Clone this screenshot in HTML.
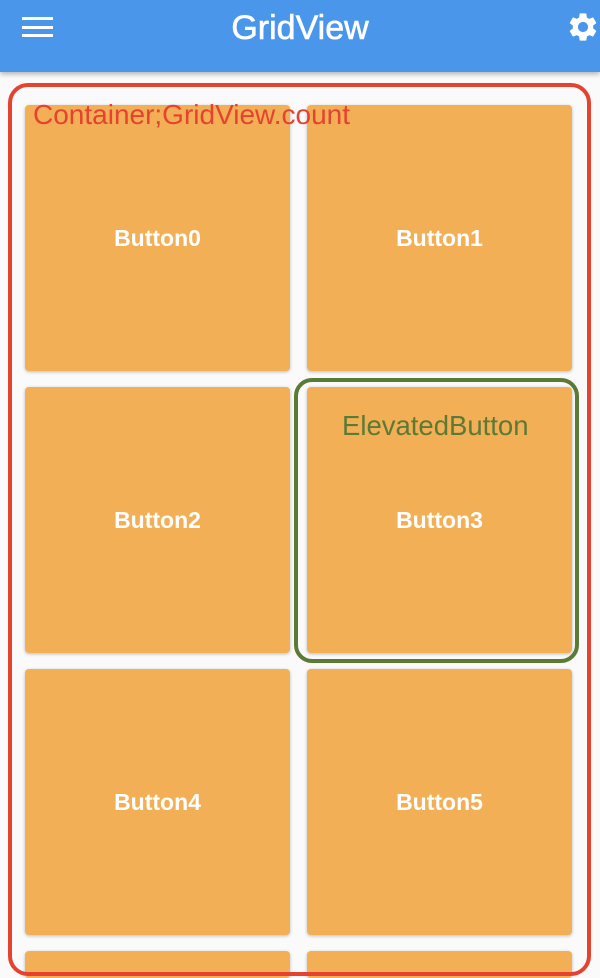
<!DOCTYPE html>
<html><head><meta charset="utf-8"><style>
*{margin:0;padding:0;box-sizing:border-box}
html,body{width:600px;height:978px;overflow:hidden}
body{background:#fafafa;font-family:"Liberation Sans",sans-serif;position:relative}
.bar{position:absolute;left:0;top:0;width:600px;height:72px;background:#4a96ea;box-shadow:0 2px 5px rgba(0,0,0,.3);z-index:2}
.title{position:absolute;left:0;width:600px;top:8px;text-align:center;color:#fff;font-size:34px;line-height:40px;-webkit-text-stroke:0.6px #fff}
.menu{position:absolute;left:22px;top:17px;width:31px;height:20px}
.menu span{position:absolute;left:0;width:31px;height:3px;background:#fff}
.btn{position:absolute;width:265px;height:266px;background:#f2af55;border-radius:4px;box-shadow:0 1px 3px rgba(0,0,0,.25);color:#fff;font-weight:bold;font-size:23px;display:flex;align-items:center;justify-content:center}
.red{position:absolute;left:8px;top:83px;width:583px;height:893px;border:4px solid #e5432f;border-radius:20px}
.green{position:absolute;left:294px;top:378px;width:285px;height:285px;border:4px solid #5b7a36;border-radius:18px}
</style></head><body>
<div class="bar">
<div class="menu"><span style="top:0"></span><span style="top:9px"></span><span style="top:17px"></span></div>
<div class="title">GridView</div>
<svg style="position:absolute;left:566px;top:10px" width="34" height="34" viewBox="0 0 24 24"><path fill="#fff" d="M19.14 12.94c.04-.3.06-.61.06-.94s-.02-.64-.07-.94l2.03-1.58a.49.49 0 0 0 .12-.61l-1.920-3.32a.49.49 0 0 0-.59-.22l-2.39.96c-.5-.38-1.03-.7-1.62-.94l-.36-2.54a.48.48 0 0 0-.48-.41h-3.84c-.24 0-.43.17-.47.41l-.36 2.540c-.59.24-1.13.57-1.62.94l-2.39-.96a.49.49 0 0 0-.59.22L2.74 8.87c-.12.21-.08.47.12.61l2.03 1.58c-.05.3-.09.63-.09.94s.02.64.07.94l-2.03 1.58a.49.49 0 0 0-.12.61l1.92 3.32c.12.22.37.29.59.22l2.39-.96c.5.38 1.03.7 1.62.94l.36 2.54c.05.24.24.41.48.41h3.84c.24 0 .44-.17.47-.41l.36-2.54c.59-.24 1.13-.56 1.62-.94l2.39.96c.22.08.47 0 .59-.22l1.92-3.32c.12-.22.07-.47-.12-.61l-2.010-1.58zM12 15.6A3.6 3.6 0 1 1 12 8.4a3.6 3.6 0 0 1 0 7.2z"/></svg>
</div>
<div class="btn" style="left:25px;top:105px">Button0</div>
<div class="btn" style="left:307px;top:105px">Button1</div>
<div class="btn" style="left:25px;top:387px">Button2</div>
<div class="btn" style="left:307px;top:387px">Button3</div>
<div class="btn" style="left:25px;top:669px">Button4</div>
<div class="btn" style="left:307px;top:669px">Button5</div>
<div class="btn" style="left:25px;top:951px;height:27px"></div>
<div class="btn" style="left:307px;top:951px;height:27px"></div>
<div class="red"></div>
<div style="position:absolute;left:33px;top:99px;color:#e5432f;font-size:28px">Container;GridView.count</div>
<div class="green"></div>
<div style="position:absolute;left:342px;top:410px;color:#5b7a36;font-size:27.5px">ElevatedButton</div>
</body></html>
